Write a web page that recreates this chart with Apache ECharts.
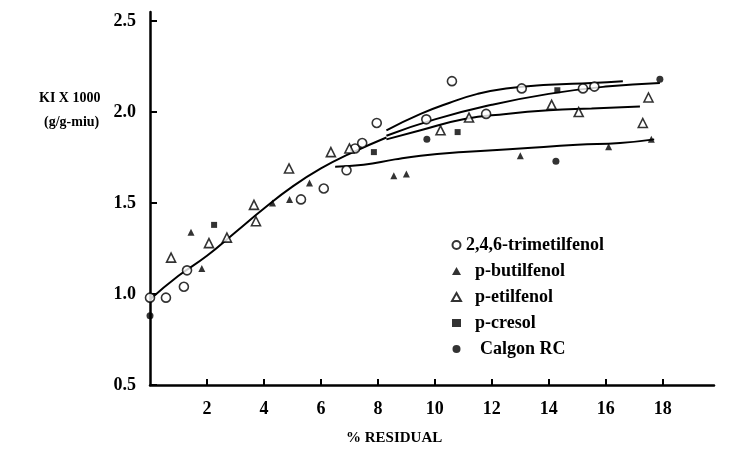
<!DOCTYPE html>
<html><head><meta charset="utf-8">
<script src="https://cdn.jsdelivr.net/npm/echarts@6/dist/echarts.min.js"></script>
<style>html,body{margin:0;padding:0;background:#fff}#c{width:741px;height:450px}</style>
</head><body><div id="c"></div><script>
// ---- data ----
const seriesNames = ['2,4,6-trimetilfenol','p-butilfenol','p-etilfenol','p-cresol','Calgon RC'];
const trimetil = [[0,0.98],[0.56,0.98],[1.19,1.04],[1.3,1.13],[5.3,1.52],[6.1,1.58],[6.9,1.68],[7.2,1.8],[7.45,1.83],[7.96,1.94],[9.7,1.96],[10.6,2.17],[11.8,1.99],[13.05,2.13],[15.2,2.13],[15.6,2.14]];
const butil = [[1.44,1.34],[1.82,1.14],[4.3,1.5],[4.9,1.52],[5.6,1.61],[8.56,1.65],[9.0,1.66],[13.0,1.76],[16.1,1.81],[17.6,1.85]];
const etil = [[0.74,1.2],[2.07,1.28],[2.7,1.31],[3.72,1.4],[3.65,1.49],[4.88,1.69],[6.35,1.78],[7.0,1.8],[10.2,1.9],[11.2,1.97],[14.1,2.04],[15.05,2.0],[17.3,1.94],[17.5,2.08]];
const cresol = [[2.25,1.38],[7.86,1.78],[10.8,1.89],[14.3,2.12]];
const calgon = [[0,0.88],[9.72,1.85],[14.25,1.73],[17.9,2.18]];
// fitted curves
const curveTrunk = [[0,0.97],[1,1.1],[2,1.21],[3,1.34],[4,1.47],[5,1.59],[6,1.69],[7,1.77],[8.3,1.86]];
const curveLow = [[6.5,1.70],[7.5,1.71],[8.6,1.74],[9.5,1.76],[11,1.78],[13,1.80],[15,1.82],[16.5,1.83],[17.7,1.85]];
const curveA = [[8.3,1.9],[9.5,1.99],[10.5,2.05],[11.5,2.10],[12.5,2.13],[14,2.15],[15.5,2.16],[16.6,2.17]];
const curveB = [[8.3,1.87],[10,1.96],[12,2.04],[14,2.1],[16,2.14],[17.9,2.16]];
const curveC = [[8.3,1.85],[9.5,1.9],[11,1.96],[12.5,1.99],[14,2.01],[15.5,2.02],[17.2,2.03]];
const xTickStep = 2;
const yTickStep = 0.5;

const FONT = 'Liberation Serif';
const chart = echarts.init(document.getElementById('c'), null, {renderer:'canvas'});
function lineSeries(d){
  return {type:'line', data:d, smooth:true, showSymbol:false, symbol:'none', silent:true,
    lineStyle:{color:'#000', width:2}, z:2};
}
function scat(name, d, symbol, size, fill){
  return {type:'scatter', name:name, data:d, symbol:symbol, symbolSize:size, z:5,
    itemStyle:{color: fill ? '#000' : '#fff', borderColor:'#000', borderWidth: fill?0:1.6}};
}
chart.setOption({
  animation:false,
  backgroundColor:'#fff',
  grid:{left:150, top:12, width:564, height:373, containLabel:false},
  xAxis:{type:'value', min:0, max:19.8, interval:xTickStep,
    axisLine:{show:true, onZero:false, lineStyle:{color:'#000', width:2.5}},
    axisTick:{show:true, inside:true, length:6, lineStyle:{color:'#000', width:2}},
    splitLine:{show:false},
    axisLabel:{color:'#000', fontFamily:FONT, fontWeight:'bold', fontSize:18, margin:15,
      showMinLabel:false, showMaxLabel:false, formatter:v=> (v===0? '' : String(v))}
  },
  yAxis:{type:'value', min:0.5, max:2.55, interval:yTickStep,
    axisLine:{show:true, onZero:false, lineStyle:{color:'#000', width:2.5}},
    axisTick:{show:true, inside:true, length:7, lineStyle:{color:'#000', width:2}},
    splitLine:{show:false},
    axisLabel:{color:'#000', fontFamily:FONT, fontWeight:'bold', fontSize:18, margin:14,
      showMaxLabel:false, formatter:v=>v.toFixed(1)}
  },
  legend:{orient:'vertical', left:446, top:231, itemWidth:9, itemHeight:8, itemGap:8,
    data:seriesNames,
    textStyle:{color:'#000', fontFamily:FONT, fontWeight:'bold', fontSize:18, lineHeight:18,
      rich:{p:{fontFamily:FONT, fontWeight:'bold', fontSize:18, lineHeight:18, padding:[0,0,0,9]}, q:{fontFamily:FONT, fontWeight:'bold', fontSize:18, lineHeight:18, padding:[0,0,0,14]}}},
    formatter:function(n){ if(n===seriesNames[0]) return n; if(n===seriesNames[4]) return '{q|'+n+'}'; return '{p|'+n+'}'; }
  },
  graphic:[
    {type:'text', left:39, top:91, style:{text:'KI X 1000', fill:'#000', font:'bold 14px "Liberation Serif"'}},
    {type:'text', left:44, top:115, style:{text:'(g/g-miu)', fill:'#000', font:'bold 14px "Liberation Serif"'}},
    {type:'text', left:346, top:431, style:{text:'% RESIDUAL', fill:'#000', font:'bold 15px "Liberation Serif"'}}
  ],
  series:[
    lineSeries(curveTrunk), lineSeries(curveLow), lineSeries(curveA), lineSeries(curveB), lineSeries(curveC),
    scat(seriesNames[0], trimetil, 'circle', 9, false),
    scat(seriesNames[1], butil, 'triangle', 7, true),
    scat(seriesNames[2], etil, 'triangle', 9, false),
    scat(seriesNames[3], cresol, 'rect', 6, true),
    scat(seriesNames[4], calgon, 'circle', 7, true)
  ]
});
</script></body></html>
